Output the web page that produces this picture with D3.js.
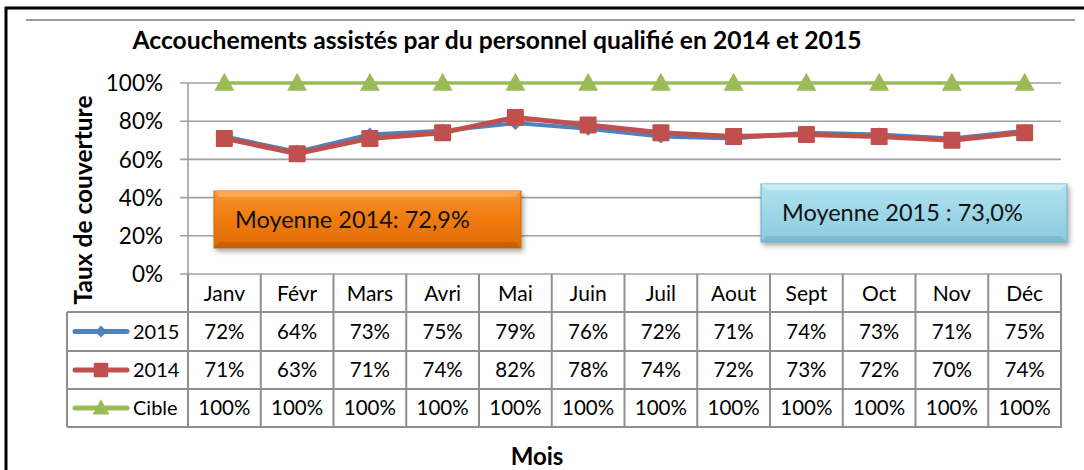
<!DOCTYPE html>
<html><head><meta charset="utf-8">
<script src="https://cdn.jsdelivr.net/npm/d3@7"></script>
<style>body{margin:0;background:#fff}svg{display:block}text{font-family:Lato,"Open Sans",sans-serif}</style>
</head><body>
<svg id="c" width="1084" height="470"></svg>
<script>
const months = ["Janv","Févr","Mars","Avri","Mai","Juin","Juil","Aout","Sept","Oct","Nov","Déc"];
const s2015 = [72,64,73,75,79,76,72,71,74,73,71,75];
const s2014 = [71,63,71,74,82,78,74,72,73,72,70,74];
const cible = [100,100,100,100,100,100,100,100,100,100,100,100];
const yTicks = [0,20,40,60,80,100];
const series = [
  {name:"Cible", values:cible, color:"#9BBB59", width:3.5, marker:"triangle"},
  {name:"2015", values:s2015, color:"#4F81BD", width:4, marker:"diamond"},
  {name:"2014", values:s2014, color:"#C0504D", width:5, marker:"square"}
];
const tableRows = [series[1], series[2], series[0]];

const svg = d3.select("#c");
const x = d3.scaleBand().domain(months).range([188,1061]);
const y = d3.scaleLinear().domain([0,100]).range([274,83]);

// outer frame
svg.append("rect").attr("x",6).attr("y",8).attr("width",1100).attr("height",480)
  .attr("fill","none").attr("stroke","#000").attr("stroke-width",3);
svg.append("line").attr("x1",26).attr("x2",1075).attr("y1",20).attr("y2",20)
  .attr("stroke","#9a9a9a").attr("stroke-width",2);

// title
svg.append("text").attr("x",497).attr("y",49).attr("text-anchor","middle")
  .attr("font-weight","bold").attr("font-size",24).attr("fill","#000")
  .attr("textLength",729).attr("lengthAdjust","spacingAndGlyphs")
  .text("Accouchements assistés par du personnel qualifié en 2014 et 2015");

// gridlines
const grid = "#a0a0a0";
svg.append("g").selectAll("line").data(yTicks).join("line")
  .attr("x1",180).attr("x2",1061).attr("y1",d=>y(d)).attr("y2",d=>y(d))
  .attr("stroke",grid).attr("stroke-width",1.6);
svg.append("line").attr("x1",188).attr("x2",188).attr("y1",y(100)).attr("y2",y(0))
  .attr("stroke",grid).attr("stroke-width",1.6);
svg.append("g").selectAll("text").data(yTicks).join("text")
  .attr("x",163).attr("y",d=>y(d)).attr("dy","0.36em").attr("text-anchor","end")
  .attr("font-size",22.5).attr("fill","#000").text(d=>d+"%");

// axis titles
svg.append("text").attr("transform","translate(92,200) rotate(-90)").attr("text-anchor","middle")
  .attr("font-weight","bold").attr("font-size",24.5).text("Taux de couverture");
svg.append("text").attr("x",537).attr("y",465).attr("text-anchor","middle")
  .attr("font-weight","bold").attr("font-size",24).text("Mois");

// defs for boxes
const defs = svg.append("defs");
const go = defs.append("linearGradient").attr("id","go").attr("x1",0).attr("y1",0).attr("x2",0).attr("y2",1);
go.append("stop").attr("offset","0").attr("stop-color","#f79535");
go.append("stop").attr("offset","0.5").attr("stop-color","#f07a0c");
go.append("stop").attr("offset","1").attr("stop-color","#e06b04");
const gb = defs.append("linearGradient").attr("id","gb").attr("x1",0).attr("y1",0).attr("x2",0).attr("y2",1);
gb.append("stop").attr("offset","0").attr("stop-color","#b3e3f0");
gb.append("stop").attr("offset","0.5").attr("stop-color","#9dd7e8");
gb.append("stop").attr("offset","1").attr("stop-color","#8ccbe0");
const sh = defs.append("filter").attr("id","sh").attr("x","-10%").attr("y","-20%").attr("width","130%").attr("height","160%");
sh.append("feDropShadow").attr("dx",2).attr("dy",3).attr("stdDeviation",2.5).attr("flood-color","#000").attr("flood-opacity",0.35);

function box(x0,y0,w,h,fill,stroke,bev1,bev2,label,tx){
  const g = svg.append("g");
  g.append("rect").attr("x",x0).attr("y",y0).attr("width",w).attr("height",h)
    .attr("fill",fill).attr("stroke",stroke).attr("stroke-width",1).attr("filter","url(#sh)");
  const b=6;
  g.append("path").attr("d",`M${x0},${y0}L${x0+w},${y0}L${x0+w-b},${y0+b}L${x0+b},${y0+b}Z`).attr("fill",bev1).attr("opacity",0.6);
  g.append("path").attr("d",`M${x0},${y0+h}L${x0+w},${y0+h}L${x0+w-b},${y0+h-b}L${x0+b},${y0+h-b}Z`).attr("fill",bev2).attr("opacity",0.5);
  g.append("text").attr("x",tx).attr("y",y0+h/2).attr("dy","0.36em").attr("font-size",23.5).attr("fill","#111").text(label);
}

// lines
const line = d3.line().x((d,i)=>x(months[i])+x.bandwidth()/2).y(d=>y(d));
series.forEach(s=>{
  svg.append("path").datum(s.values).attr("d",line).attr("fill","none")
    .attr("stroke",s.color).attr("stroke-width",s.width).attr("stroke-linejoin","round");
});
function marker(g,type,cx,cy,color,scale){
  scale = scale||1;
  if(type==="triangle"){
    const w=10*scale,h=17*scale;
    g.append("path").attr("d",`M${cx},${cy-h*0.6}L${cx+w},${cy+h*0.45}L${cx-w},${cy+h*0.45}Z`).attr("fill",color);
  } else if(type==="square"){
    const a=8.5*scale;
    g.append("rect").attr("x",cx-a).attr("y",cy-a).attr("width",2*a).attr("height",2*a).attr("fill",color).attr("rx",1);
  } else {
    const a=7*scale;
    g.append("path").attr("d",`M${cx},${cy-a}L${cx+a},${cy}L${cx},${cy+a}L${cx-a},${cy}Z`).attr("fill",color);
  }
}
series.forEach(s=>{
  const g=svg.append("g");
  s.values.forEach((v,i)=>marker(g,s.marker,x(months[i])+x.bandwidth()/2,y(v),s.color));
});

// boxes
box(214,191,307,57,"url(#go)","#c86a10","#ffb870","#a85306","Moyenne 2014: 72,9%",235);
box(761,184,306,58,"url(#gb)","#6fa9bd","#d8f2fa","#6aa9bf","Moyenne 2015 : 73,0%",782);

// table
const tb = "#8f8f8f";
const rowY = [274,312,351,389,427];
const tg = svg.append("g");
tg.selectAll("text.m").data(months).join("text").attr("class","m")
  .attr("x",d=>x(d)+x.bandwidth()/2).attr("y",(rowY[0]+rowY[1])/2).attr("dy","0.36em")
  .attr("text-anchor","middle").attr("font-size",21).text(d=>d);
months.forEach((m,i)=>{
  if(i===0) return;
  tg.append("line").attr("x1",x(m)).attr("x2",x(m)).attr("y1",rowY[0]).attr("y2",rowY[4]).attr("stroke",tb).attr("stroke-width",2);
});
tg.append("line").attr("x1",188).attr("x2",188).attr("y1",rowY[0]).attr("y2",rowY[4]).attr("stroke",tb).attr("stroke-width",2);
tg.append("line").attr("x1",1061).attr("x2",1061).attr("y1",rowY[0]).attr("y2",rowY[4]).attr("stroke",tb).attr("stroke-width",2);
tg.append("line").attr("x1",67).attr("x2",67).attr("y1",rowY[1]).attr("y2",rowY[4]).attr("stroke",tb).attr("stroke-width",2);
[1,2,3,4].forEach(k=>{
  tg.append("line").attr("x1",67).attr("x2",1062).attr("y1",rowY[k]).attr("y2",rowY[k]).attr("stroke",tb).attr("stroke-width",2);
});
tableRows.forEach((s,r)=>{
  const cy=(rowY[r+1]+rowY[r+2])/2;
  tg.selectAll(null).data(s.values).join("text")
    .attr("x",(d,i)=>x(months[i])+x.bandwidth()/2).attr("y",cy).attr("dy","0.36em")
    .attr("text-anchor","middle").attr("font-size",20.5).text(d=>d+"%");
  tg.append("line").attr("x1",75).attr("x2",127).attr("y1",cy).attr("y2",cy)
    .attr("stroke",s.color).attr("stroke-width",5).attr("stroke-linecap","round");
  marker(tg,s.marker,101,cy,s.color,0.85);
  tg.append("text").attr("x",133).attr("y",cy).attr("dy","0.36em").attr("font-size",20).text(s.name);
});
</script>
</body></html>
